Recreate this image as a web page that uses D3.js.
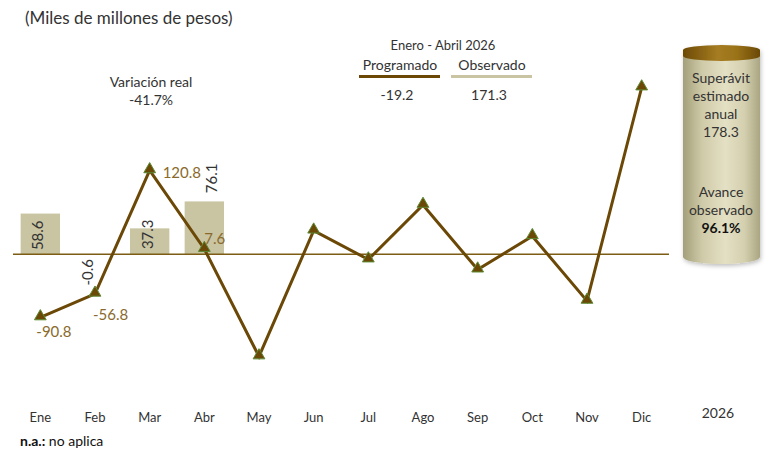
<!DOCTYPE html>
<html>
<head>
<meta charset="utf-8">
<script src="https://cdn.jsdelivr.net/npm/d3@7"></script>
<style>
  body { margin: 0; background: #fff; }
  svg { font-family: Lato, "DejaVu Sans", sans-serif; }
</style>
</head>
<body>
<div id="chart"></div>
<script>
// data
const meses = ["Ene", "Feb", "Mar", "Abr", "May", "Jun", "Jul", "Ago", "Sep", "Oct", "Nov", "Dic"];
const programado = [-90.8, -56.8, 120.8, 7.6, -147, 34, -7.5, 71, -22, 26, -67, 240];
const observado = [58.6, -0.6, 37.3, 76.1];
const progLabels = ["-90.8", "-56.8", "120.8", "7.6"];
const obsLabels = ["58.6", "-0.6", "37.3", "76.1"];
const totalProg = "-19.2";
const totalObs = "171.3";
const variacion = "-41.7%";
const superavit = "178.3";
const avance = "96.1%";

const width = 768, height = 452;
const cLine = "#6b4806", cBar = "#c9c4a2", cLabel = "#8a6a2c", cText = "#333";

const svg = d3.select("#chart").append("svg")
  .attr("width", width).attr("height", height);

// scales
const x = d3.scaleBand().domain(meses).range([13, 669])
  .paddingInner(0.28).paddingOuter(0.14);
const y = d3.scaleLinear().domain([-200, 260]).range([393.3, 73.6]);
const cx = (d) => x(d) + x.bandwidth() / 2;

// title
svg.append("text").attr("x", 25).attr("y", 24)
  .style("font-size", "17px").attr("fill", cText)
  .text("(Miles de millones de pesos)");

// bars (observado)
svg.selectAll(".bar").data(observado).enter().append("rect")
  .attr("class", "bar")
  .attr("x", (d, i) => x(meses[i]))
  .attr("width", x.bandwidth())
  .attr("y", (d) => y(Math.max(0, d)))
  .attr("height", (d) => Math.abs(y(d) - y(0)))
  .attr("fill", cBar);

// zero line
svg.append("line")
  .attr("x1", 13).attr("x2", 669)
  .attr("y1", y(0)).attr("y2", y(0))
  .attr("stroke", "#7d5c14").attr("stroke-width", 1.5);

// bar labels, rotated
const barLab = [
  { dx: 3, pos: () => y(0) - 19 },
  { dx: -2, pos: () => y(0) + 18 },
  { dx: 3, pos: () => y(0) - 20 },
  { dx: 13, pos: (d) => y(d) - 23 }
];
svg.selectAll(".blab").data(observado).enter().append("text")
  .attr("transform", (d, i) => `translate(${cx(meses[i]) + barLab[i].dx},${barLab[i].pos(d)}) rotate(-90)`)
  .attr("text-anchor", "middle")
  .style("font-size", "15px").attr("fill", cText)
  .text((d, i) => obsLabels[i]);

// line (programado)
const line = d3.line().x((d, i) => cx(meses[i])).y((d) => y(d));
svg.append("path").datum(programado)
  .attr("d", line).attr("fill", "none")
  .attr("stroke", cLine).attr("stroke-width", 3);

svg.selectAll(".mk").data(programado).enter().append("path")
  .attr("d", d3.symbol().type(d3.symbolTriangle).size(60))
  .attr("transform", (d, i) => `translate(${cx(meses[i])},${y(d) - 1})`)
  .attr("fill", cLine).attr("stroke", "#5b8a34").attr("stroke-width", 1);

// line labels
const progOff = [[-4, 20], [-2, 26], [13, 8], [0, -5]];
svg.selectAll(".plab").data(programado.slice(0, 4)).enter().append("text")
  .attr("x", (d, i) => cx(meses[i]) + progOff[i][0])
  .attr("y", (d, i) => y(d) + progOff[i][1])
  .attr("text-anchor", "start")
  .style("font-size", "15px").attr("fill", cLabel)
  .text((d, i) => progLabels[i]);

// x axis labels
svg.append("g").attr("transform", "translate(0,422)")
  .call(d3.axisBottom(x).tickSize(0).tickPadding(0))
  .call((g) => g.select(".domain").remove())
  .selectAll("text")
  .attr("dy", 0)
  .style("font-size", "13px").attr("fill", cText)
  .style("font-family", "Lato, sans-serif");

svg.append("text").attr("x", 718).attr("y", 418).attr("text-anchor", "middle")
  .style("font-size", "14px").attr("fill", cText).text("2026");

// variacion real
svg.append("text").attr("x", 151).attr("y", 87).attr("text-anchor", "middle")
  .style("font-size", "14px").attr("fill", cText).text("Variación real");
svg.append("text").attr("x", 151).attr("y", 105).attr("text-anchor", "middle")
  .style("font-size", "14px").attr("fill", cText).text(variacion);

// legend
svg.append("text").attr("x", 443).attr("y", 50).attr("text-anchor", "middle")
  .style("font-size", "13px").attr("fill", cText).text("Enero - Abril 2026");
const leg = [
  { name: "Programado", val: totalProg, color: cLine, x: 400 },
  { name: "Observado", val: totalObs, color: cBar, x: 492 }
];
leg.forEach((l) => {
  svg.append("text").attr("x", l.x).attr("y", 70).attr("text-anchor", "middle")
    .style("font-size", "14px").attr("fill", cText).text(l.name);
  svg.append("line").attr("x1", l.x - 41).attr("x2", l.x + 40)
    .attr("y1", 76.5).attr("y2", 76.5)
    .attr("stroke", l.color).attr("stroke-width", 3);
  svg.append("text").attr("x", l.x - 3).attr("y", 100).attr("text-anchor", "middle")
    .style("font-size", "14px").attr("fill", cText).text(l.val);
});

// cylinder
const defs = svg.append("defs");
const gBody = defs.append("linearGradient").attr("id", "gBody");
[[0, "#a39f7a"], [0.25, "#cfcaa8"], [0.55, "#e4e0c4"], [0.8, "#d4cfae"], [1, "#aaa582"]]
  .forEach(([o, c]) => gBody.append("stop").attr("offset", o).attr("stop-color", c));
const gCap = defs.append("linearGradient").attr("id", "gCap");
[[0, "#6d4a04"], [0.45, "#a57c22"], [0.7, "#9a7218"], [1, "#6a4804"]]
  .forEach(([o, c]) => gCap.append("stop").attr("offset", o).attr("stop-color", c));
const shadow = defs.append("filter").attr("id", "sh").attr("x", "-20%").attr("y", "-10%")
  .attr("width", "140%").attr("height", "130%");
shadow.append("feDropShadow").attr("dx", 1).attr("dy", 2).attr("stdDeviation", 2)
  .attr("flood-color", "#000").attr("flood-opacity", 0.25);

const cylL = 683, cylR = 760, rx = (cylR - cylL) / 2;
const cyl = svg.append("g").attr("filter", "url(#sh)");
cyl.append("path")
  .attr("d", `M${cylL},56 L${cylL},257 A${rx},7 0 0 0 ${cylR},257 L${cylR},56 Z`)
  .attr("fill", "url(#gBody)");
cyl.append("path")
  .attr("d", `M${cylL},50 A${rx},5 0 0 1 ${cylR},50 L${cylR},56 A${rx},5 0 0 1 ${cylL},56 Z`)
  .attr("fill", "url(#gCap)");

const cylText = [
  ["Superávit", 83, false], ["estimado", 101, false], ["anual", 119, false], [superavit, 137, false],
  ["Avance", 197, false], ["observado", 215, false], [avance, 233, true]
];
svg.selectAll(".ct").data(cylText).enter().append("text")
  .attr("x", 721).attr("y", (d) => d[1]).attr("text-anchor", "middle")
  .style("font-size", "14px").style("font-weight", (d) => (d[2] ? "bold" : "normal"))
  .attr("fill", (d) => (d[2] ? "#111" : cText))
  .text((d) => d[0]);

// footnote
const fn = svg.append("text").attr("x", 20).attr("y", 446)
  .style("font-size", "14px").attr("fill", "#111");
fn.append("tspan").style("font-weight", "bold").text("n.a.:");
fn.append("tspan").text(" no aplica");
</script>
</body>
</html>
